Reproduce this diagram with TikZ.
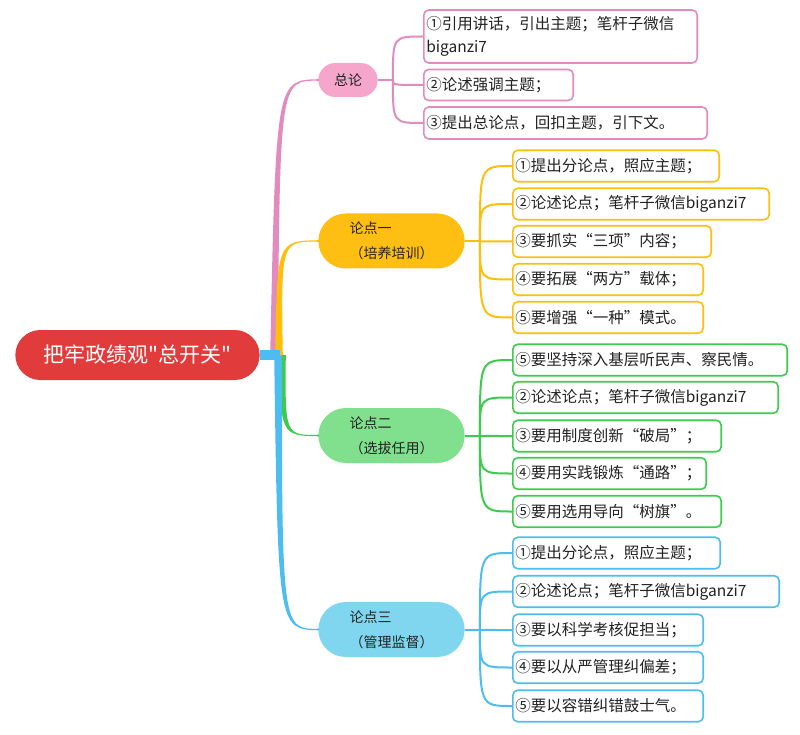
\documentclass[tikz,border=0pt]{standalone}
\usepackage{fontspec}
\newfontfamily\cjk{Noto Sans CJK SC}
\usepackage{tikz}
\usetikzlibrary{calc,shapes.misc}

\definecolor{rootred}{HTML}{E23B3B}
\definecolor{pinkln}{HTML}{E28BBE}
\definecolor{pinkfill}{HTML}{F6A6CB}
\definecolor{orangeln}{HTML}{FFBE0A}
\definecolor{orangefill}{HTML}{FFBF12}
\definecolor{greenln}{HTML}{3CCB4C}
\definecolor{greenfill}{HTML}{80E08D}
\definecolor{blueln}{HTML}{4BBDF0}
\definecolor{bluefill}{HTML}{7FD6EE}
\definecolor{ink}{HTML}{222222}

\begin{document}
\begin{tikzpicture}[x=1pt,y=-1pt,
    root/.style={rounded rectangle,fill=rootred,text=white,minimum width=251pt,minimum height=50pt,
        font=\cjk\fontsize{21}{25}\selectfont},
    topic/.style={rounded rectangle,minimum width=153pt,minimum height=55pt,align=left,text=ink,
        font=\cjk\fontsize{14}{25}\selectfont},
    leaf/.style={draw,fill=white,line width=1.6pt,rounded corners=5pt,anchor=west,align=left,
        inner xsep=2.5pt,inner ysep=0pt,minimum height=31.5pt,text=ink,font=\cjk\fontsize{15.5}{23}\selectfont},
    twig/.style={line width=2pt}
    ]
    \useasboundingbox (0,0) rectangle (800,735);
    \def\zx{423}  % left edge, 总论 leaves
    \def\lx{512}  % left edge, 论点 leaves
    \def\bw{3.8}  % half width of a main branch at the hub

    % root and main topics
    \node[root] (root) at (137.5,355) {把牢政绩观"总开关"};
    \node[topic,fill=pinkfill,minimum width=66pt,minimum height=34pt] (zl) at (348,80) {总论};
    \node[topic,fill=orangefill] (ld1) at (391.5,241) {论点一\\（培养培训）};
    \node[topic,fill=greenfill] (ld2) at (391.5,435.5) {论点二\\（选拔任用）};
    \node[topic,fill=bluefill] (ld3) at (391.5,629.5) {论点三\\（管理监督）};

    % tapered main branches
    \coordinate (hub) at (276,355);
    \foreach \c/\t/\sx/\cx/\g in {pinkln/zl/-2/2/-1,orangeln/ld1/3/3/-1,greenln/ld2/6/7/1,blueln/ld3/2/4/1} {
        \fill[\c] ($(hub)+(\sx-\bw,0)$) .. controls ($(hub |- \t.west)+(\cx-2,0)$) .. ($(\t.west)+(1,0.8*\g)$)
            -- ($(\t.west)+(1,-0.8*\g)$) .. controls ($(hub |- \t.west)+(\cx+2,0)$) .. ($(hub)+(\sx+\bw,0)$) -- cycle;
    }
    \draw[blueln,line width=10pt] (root.east) -- ($(hub)+(4,0)$);

    % junctions
    \coordinate (zj) at ($(zl.east)+(15,0)$);
    \coordinate (j1) at ($(ld1.east)+(15,0)$);
    \coordinate (j2) at ($(ld2.east)+(15,0)$);
    \coordinate (j3) at ($(ld3.east)+(15,0)$);
    \draw[twig,pinkln] (zl.east) -- (zj);
    \draw[twig,orangeln] (ld1.east) -- (j1);
    \draw[twig,greenln] (ld2.east) -- (j2);
    \draw[twig,blueln] (ld3.east) -- (j3);

    % 总论
    \foreach \n/\y/\w/\h/\t in {1/36.5/275/53/{①引用讲话，引出主题；笔杆子微信\\biganzi7},
            2/85/151/31/②论述强调主题；,3/123/285/32/③提出总论点，回扣主题，引下文。} {
        \pgfmathsetmacro\tw{\w-6.6}
        \node[leaf,draw=pinkln,text width=\tw pt,minimum height=\h pt] (z\n) at (\zx,\y) {\t};
        \draw[twig,pinkln] (zj) .. controls (zj |- z\n.west) .. (z\n.west);
    }

    % 论点一
    \foreach \n/\y/\w/\t in {1/166/208/①提出分论点，照应主题；,2/204/258/②论述论点；笔杆子微信biganzi7,
            3/241.5/200/③要抓实“三项”内容；,4/279.5/192/④要拓展“两方”载体；,5/317.5/192/⑤要增强“一种”模式。} {
        \pgfmathsetmacro\tw{\w-6.6}
        \node[leaf,draw=orangeln,text width=\tw pt] (a\n) at (\lx,\y) {\t};
        \draw[twig,orangeln] (j1) .. controls (j1 |- a\n.west) .. (a\n.west);
    }

    % 论点二
    \foreach \n/\y/\w/\t in {1/360/276/⑤要坚持深入基层听民声、察民情。,2/397.5/267/②论述论点；笔杆子微信biganzi7,
            3/436/210/③要用制度创新“破局”；,4/473.5/195/④要用实践锻炼“通路”；,5/511.5/210/⑤要用选用导向“树旗”。} {
        \pgfmathsetmacro\tw{\w-6.6}
        \node[leaf,draw=greenln,text width=\tw pt] (b\n) at (\lx,\y) {\t};
        \draw[twig,greenln] (j2) .. controls (j2 |- b\n.west) .. (b\n.west);
    }

    % 论点三
    \foreach \n/\y/\w/\t in {1/553/209/①提出分论点，照应主题；,2/591.5/268/②论述论点；笔杆子微信biganzi7,
            3/630/192/③要以科学考核促担当；,4/667.5/192/④要以从严管理纠偏差；,5/706/192/⑤要以容错纠错鼓士气。} {
        \pgfmathsetmacro\tw{\w-6.6}
        \node[leaf,draw=blueln,text width=\tw pt] (c\n) at (\lx,\y) {\t};
        \draw[twig,blueln] (j3) .. controls (j3 |- c\n.west) .. (c\n.west);
    }
\end{tikzpicture}
\end{document}
